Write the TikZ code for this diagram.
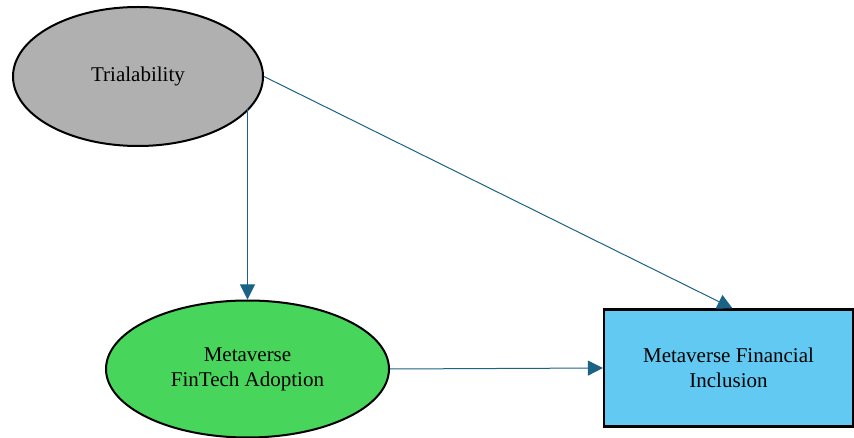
\documentclass[tikz,border=0pt]{standalone}
\usepackage{fontspec}
\setmainfont{Liberation Serif}
\usetikzlibrary{shapes.geometric,arrows.meta}
\definecolor{graynode}{HTML}{B0B0B0}
\definecolor{greennode}{HTML}{48D55C}
\definecolor{bluenode}{HTML}{62CAF2}
\definecolor{arrowcol}{HTML}{1B6385}
\tikzset{
  ell/.style={ellipse, draw=black, line width=2pt, inner sep=0pt, align=center, font=\fontsize{21}{25}\selectfont},
  boxnode/.style={rectangle, draw=black, line width=2.2pt, inner sep=0pt, align=center, fill=bluenode, font=\fontsize{21}{25}\selectfont},
  arr/.style={draw=arrowcol, line width=1pt, -{Triangle[length=15pt,width=15pt]}, color=arrowcol}
}
\begin{document}
\begin{tikzpicture}[x=1pt,y=-1pt]
\useasboundingbox (0,0) rectangle (854,438);
\node[ell, fill=graynode, minimum width=250pt, minimum height=139pt] (tri) at (138,76.5) {Trialability};
\node[ell, fill=greennode, minimum width=283pt, minimum height=137pt] (fin) at (247.5,369) {Metaverse\\FinTech Adoption};
\node[boxnode, minimum width=249pt, minimum height=117pt] (inc) at (728.5,368) {Metaverse Financial\\Inclusion};
\draw[arr] (fin.north |- tri.-16.7) -- (fin.north);
\draw[arr] (tri.east) -- ([xshift=4pt]inc.north);
\draw[arr] (fin.east) -- (inc.west);
\end{tikzpicture}
\end{document}
